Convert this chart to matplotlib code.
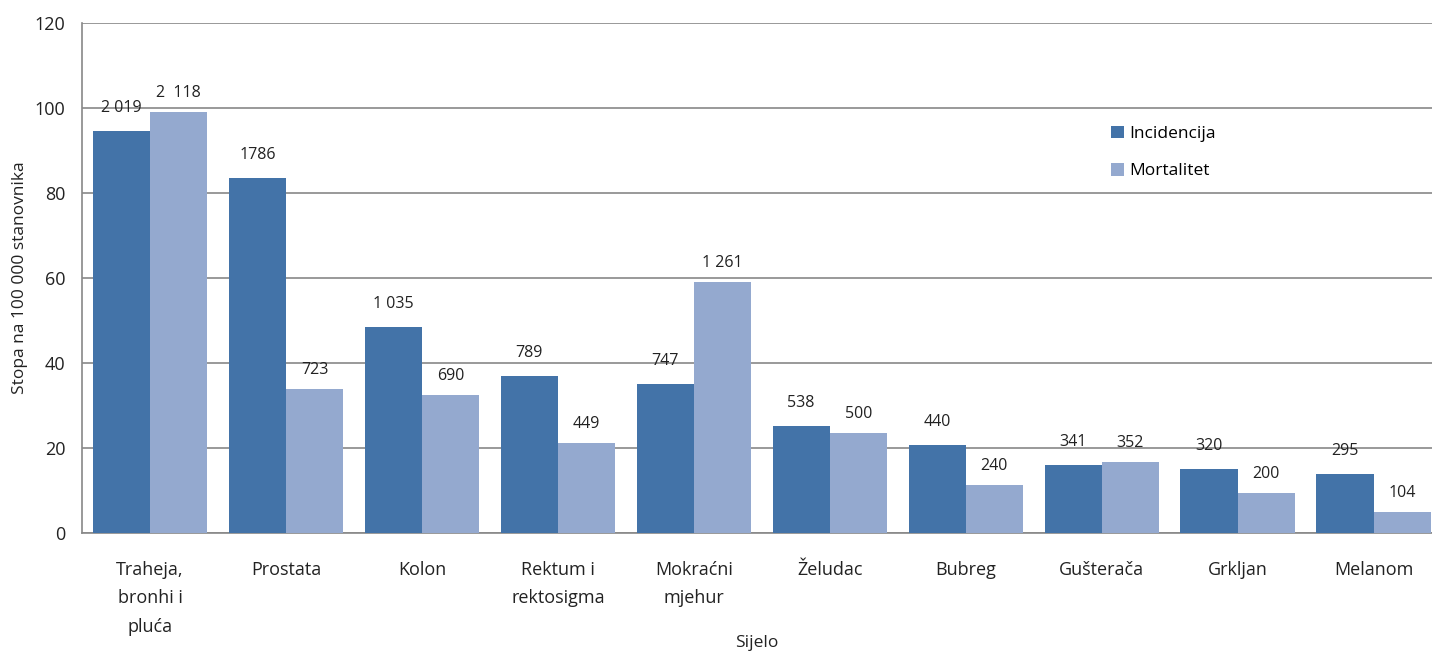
import matplotlib
matplotlib.use("Agg")
import matplotlib.pyplot as plt
import numpy as np

categories = ["Traheja,\nbronhi i\npluća", "Prostata", "Kolon", "Rektum i\nrektosigma",
              "Mokraćni\nmjehur", "Želudac", "Bubreg", "Gušterača", "Grkljan", "Melanom"]
incidencija = [94.6, 83.5, 48.5, 36.9, 35.1, 25.2, 20.7, 16.0, 15.1, 13.9]
mortalitet = [99.1, 33.9, 32.5, 21.2, 59.1, 23.5, 11.3, 16.7, 9.4, 4.9]
inc_labels = ["2 019", "1786", "1 035", "789", "747", "538", "440", "341", "320", "295"]
mort_labels = ["2  118", "723", "690", "449", "1 261", "500", "240", "352", "200", "104"]
yticks = [0, 20, 40, 60, 80, 100, 120]

plt.rcParams['font.family'] = ['Open Sans', 'DejaVu Sans']

W, H = 1432, 652
fig = plt.figure(figsize=(W/100, H/100), dpi=100)
ax = fig.add_axes([82/W, (H-533)/H, 1350/W, 510/H])

c_inc = "#4373A8"
c_mort = "#94A9CF"
x = np.arange(len(categories))
bw = 0.42
ax.bar(x - bw/2, incidencija, bw, color=c_inc, label="Incidencija", zorder=3)
ax.bar(x + bw/2, mortalitet, bw, color=c_mort, label="Mortalitet", zorder=3)

for xi, v, t in zip(x, incidencija, inc_labels):
    ax.annotate(t, (xi - bw/2, v), xytext=(0, 11), textcoords="offset points",
                ha="center", va="bottom", fontsize=11.5, color="#222222", zorder=4)
for xi, v, t in zip(x, mortalitet, mort_labels):
    ax.annotate(t, (xi + bw/2, v), xytext=(0, 8), textcoords="offset points",
                ha="center", va="bottom", fontsize=11.5, color="#222222", zorder=4)

ax.set_xlim(-0.5, 9.43)
ax.set_ylim(0, 120)
ax.set_yticks(yticks)
ax.set_yticklabels([str(t) for t in yticks], fontsize=13, color="#222222")
ax.yaxis.grid(True, color="#888888", linewidth=1.2, zorder=0)
ax.set_axisbelow(True)
ax.tick_params(axis="y", length=0, pad=12)
ax.tick_params(axis="x", length=0, pad=20)
ax.set_xticks(x)
ax.set_xticklabels(categories, fontsize=13, color="#222222", linespacing=1.75, va="top")
for s in ["top", "right"]:
    ax.spines[s].set_visible(False)
ax.spines["left"].set_color("#888888")
ax.spines["left"].set_linewidth(1.2)
ax.spines["bottom"].set_color("#888888")
ax.spines["bottom"].set_linewidth(1.2)

ax.set_ylabel("Stopa na 100 000 stanovnika", fontsize=12.5, color="#222222")
ax.yaxis.set_label_coords(-54/1350, 0.5)
fig.text((82 + 675)/W, 1/H, "Sijelo", ha="center", va="bottom", fontsize=12.5, color="#222222")

ax.legend(loc="upper left", bbox_to_anchor=(1095/W, 1 - 110/H), bbox_transform=fig.transFigure,
          frameon=False, fontsize=12.5, handlelength=0.75, handleheight=0.75,
          handletextpad=0.35, labelspacing=1.2)

fig.savefig("out.png", dpi=100)
